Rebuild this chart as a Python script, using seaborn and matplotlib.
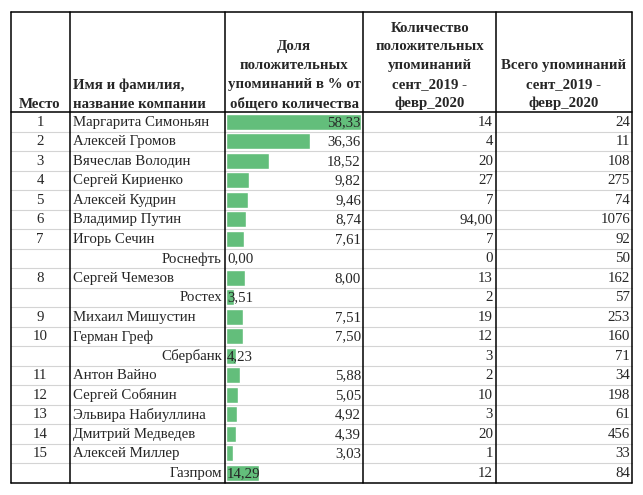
import matplotlib.pyplot as plt
import seaborn as sns
import pandas as pd

place = ["1", "2", "3", "4", "5", "6", "7", "", "8", "", "9", "10", "", "11", "12", "13", "14", "15", ""]
names = ["Маргарита Симоньян", "Алексей Громов", "Вячеслав Володин", "Сергей Кириенко",
         "Алексей Кудрин", "Владимир Путин", "Игорь Сечин", "Роснефть", "Сергей Чемезов",
         "Ростех", "Михаил Мишустин", "Герман Греф", "Сбербанк", "Антон Вайно",
         "Сергей Собянин", "Эльвира Набиуллина", "Дмитрий Медведев", "Алексей Миллер", "Газпром"]
share = [58.33, 36.36, 18.52, 9.82, 9.46, 8.74, 7.61, 0.00, 8.00, 3.51, 7.51, 7.50, 4.23,
         5.88, 5.05, 4.92, 4.39, 3.03, 14.29]
positive = [14, 4, 20, 27, 7, 94.0, 7, 0, 13, 2, 19, 12, 3, 2, 10, 3, 20, 1, 12]
total = [24, 11, 108, 275, 74, 1076, 92, 50, 162, 57, 253, 160, 71, 34, 198, 61, 456, 33, 84]

headers = ["Место", "Имя и фамилия,\nназвание компании",
           "Доля\nположительных\nупоминаний в % от\nобщего количества",
           "Количество\nположительных\nупоминаний\nсент_2019 -\nфевр_2020",
           "Всего упоминаний\nсент_2019 -\nфевр_2020"]

sns.set_style("white")
plt.rcParams["font.family"] = ["Liberation Serif", "DejaVu Serif"]

W, H = 643, 495
cols = [11, 70, 225, 363, 496, 632]
top, head_bot, row_h = 12, 112, 19.5
n = len(names)
bottom = head_bot + n * row_h

fig = plt.figure(figsize=(W / 100, H / 100), dpi=100)

# data bars (drawn underneath the table layer)
df = pd.DataFrame({"row": list(range(n)), "share": share})
bx0 = 226
bar_ax = fig.add_axes([bx0 / W, 1 - bottom / H, (cols[3] - bx0) / W, (bottom - head_bot) / H])
sns.barplot(data=df, x="share", y="row", orient="h", color="#63BE7B", width=0.8,
            saturation=1, ax=bar_ax)
bar_ax.set_xlim(0, max(share) * (cols[3] - bx0) / 135)
bar_ax.set_ylim(n - 0.5, -0.5)
bar_ax.axis("off")
bar_ax.set_zorder(1)

tab = fig.add_axes([0, 0, 1, 1])
tab.set_xlim(0, W)
tab.set_ylim(H, 0)
tab.axis("off")
tab.set_zorder(2)
tab.patch.set_visible(False)

# grid
for i in range(1, n):
    y = head_bot + i * row_h
    tab.plot([cols[0], cols[-1]], [y, y], color="#d4d4d4", lw=0.8, zorder=1)
for x in cols:
    tab.plot([x, x], [top, bottom], color="black", lw=1.1, zorder=3)
for y in [top, head_bot, bottom]:
    tab.plot([cols[0], cols[-1]], [y, y], color="black", lw=1.1, zorder=3)

# headers
fs = 10.7
ls = 1.58
hy = head_bot - 1.5
tab.text(40, hy, headers[0], ha="center", va="bottom", fontsize=fs,
         fontweight="bold", linespacing=ls)
tab.text(73, hy, headers[1], ha="left", va="bottom", fontsize=fs,
         fontweight="bold", linespacing=ls)
for k, cx in zip([2, 3, 4], [294, 430, 564]):
    tab.text(cx, hy, headers[k], ha="center", va="bottom", fontsize=fs,
             fontweight="bold", linespacing=ls)

# cell text
fmt = lambda v: f"{v:.2f}".replace(".", ",")
for i in range(n):
    y = head_bot + (i + 0.5) * row_h + 0.5
    if place[i] == "":
        tab.text(222, y, names[i], ha="right", va="center", fontsize=fs)
        tab.text(227, y, fmt(share[i]), ha="left", va="center", fontsize=fs)
    else:
        tab.text(40, y, place[i], ha="center", va="center", fontsize=fs)
        tab.text(73, y, names[i], ha="left", va="center", fontsize=fs)
        tab.text(361, y, fmt(share[i]), ha="right", va="center", fontsize=fs)
    p = positive[i]
    tab.text(493, y, fmt(p) if isinstance(p, float) else str(p), ha="right", va="center", fontsize=fs)
    tab.text(630, y, str(total[i]), ha="right", va="center", fontsize=fs)

fig.savefig("out.png", dpi=100)
